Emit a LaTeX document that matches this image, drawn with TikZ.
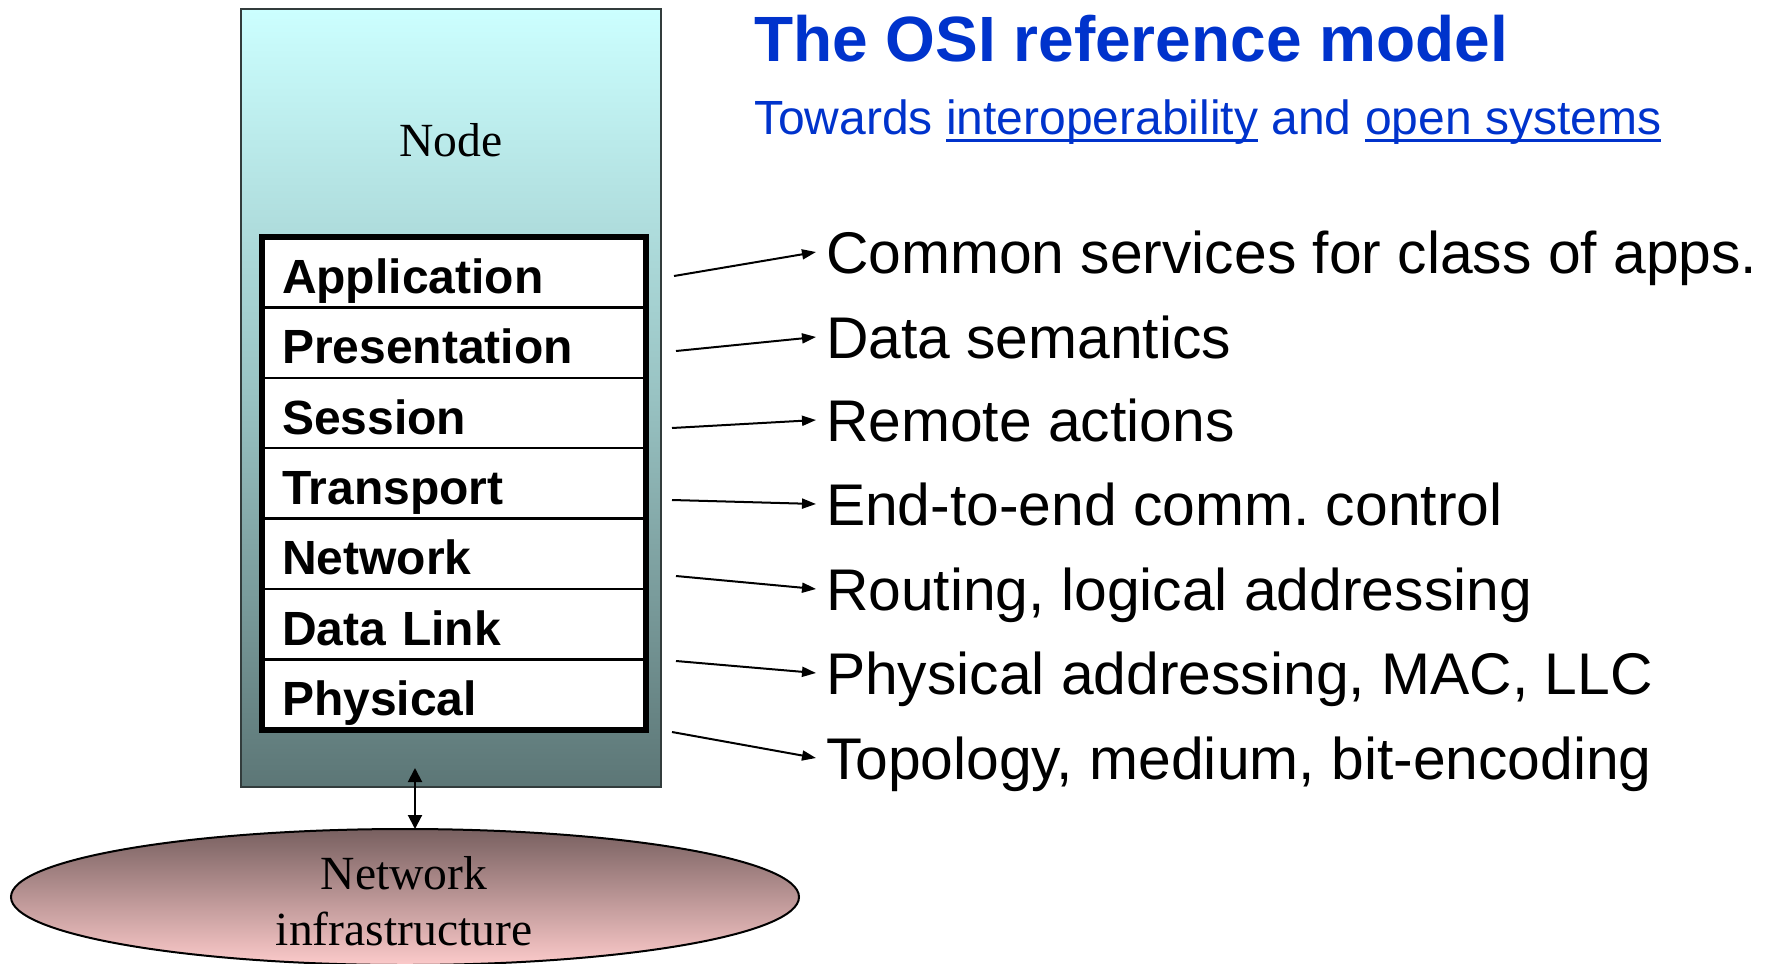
\documentclass[tikz,border=0pt]{standalone}
\usepackage{fontspec}
\setmainfont{Liberation Serif}
\setsansfont{Liberation Sans}
\usetikzlibrary{arrows.meta,shapes.geometric,positioning}
\frenchspacing

\definecolor{titleblue}{RGB}{0,51,204}
\definecolor{nodetop}{RGB}{204,255,255}
\definecolor{nodemid}{RGB}{152,194,194}
\definecolor{nodebot}{RGB}{92,118,118}
\definecolor{nettop}{RGB}{120,96,96}
\definecolor{netbot}{RGB}{252,202,202}
\definecolor{frame}{RGB}{50,60,60}

% underlined link-style words
\newsavebox{\ulbox}
\newcommand{\linkword}[1]{\sbox{\ulbox}{#1}%
  \rlap{\rule[-3.9pt]{\wd\ulbox}{1.3pt}}\usebox{\ulbox}}

% node box: cyan at the top, dark slate at the bottom
\pgfdeclareverticalshading{nodeshade}{100bp}{%
  color(0bp)=(nodebot); color(25bp)=(nodebot);
  color(50bp)=(nodemid);
  color(75bp)=(nodetop); color(100bp)=(nodetop)}

\begin{document}
\begin{tikzpicture}[x=0.5pt,y=-0.5pt,
  every node/.style={inner sep=0pt, outer sep=0pt},
  layer/.style={draw, line width=1.2pt, fill=white,
    minimum width=192pt, minimum height=35.2pt,
    text width=172pt, align=left, inner xsep=10pt,
    text height=21pt, text depth=0pt,
    font=\sffamily\bfseries\fontsize{24}{28}\selectfont},
  desc/.style={anchor=base west, inner xsep=5pt,
    text height=21pt, text depth=0pt,
    font=\sffamily\fontsize{29.4}{34}\selectfont},
  pointer/.style={-{Triangle[length=7pt,width=5pt]}, line width=1pt},
  serifbig/.style={font=\rmfamily\fontsize{23.8}{28}\selectfont},
]
\useasboundingbox (0,0) rectangle (1775,963);

% title and subtitle
\node[anchor=base west, text=titleblue,
  font=\sffamily\bfseries\fontsize{32}{38}\selectfont] (title) at (754,62)
  {The OSI reference model};
\node[anchor=base west, text=titleblue,
  font=\sffamily\fontsize{24}{28}\selectfont] (subtitle) at (754,134)
  {Towards \linkword{interoperability} and \linkword{open systems}};

% the node that holds the protocol stack
\node[draw=frame, line width=1pt, shading=nodeshade,
  minimum width=210pt, minimum height=389pt] (node) at (451,398) {};
\node[serifbig, anchor=base] (nodelabel) at (451,156) {Node};

% the seven layers
\node[layer] (l1) at (454,272.2) {Application};
\node[layer, below=0pt of l1] (l2) {Presentation};
\node[layer, below=0pt of l2] (l3) {Session};
\node[layer, below=0pt of l3] (l4) {Transport};
\node[layer, below=0pt of l4] (l5) {Network};
\node[layer, below=0pt of l5] (l6) {Data Link};
\node[layer, below=0pt of l6] (l7) {Physical};
\draw[line width=2.85pt] (l1.north west) rectangle (l7.south east);

% network infrastructure
\node[ellipse, draw, line width=1pt, top color=nettop, bottom color=netbot,
  minimum width=394pt, minimum height=68pt] (net) at (405,897) {};
\node[serifbig, anchor=base] (net1) at (404,889) {Network};
\node[serifbig, anchor=base] (net2) at (404,945) {infrastructure};

\coordinate (stackbase) at (415,768);
\draw[{Triangle[length=7pt,width=7pt]}-{Triangle[length=7pt,width=7pt]},
  line width=1pt] (stackbase) -- (stackbase |- net.north);

% what each layer provides
\node[desc] (d1) at (816,273) {Common services for class of apps.};
\node[desc] (d2) at (816,358) {Data semantics};
\node[desc] (d3) at (816,441) {Remote actions};
\node[desc] (d4) at (816,525) {End-to-end comm. control};
\node[desc] (d5) at (816,610) {Routing, logical addressing};
\node[desc] (d6) at (816,694) {Physical addressing, MAC, LLC};
\node[desc] (d7) at (816,779) {Topology, medium, bit-encoding};

\coordinate (s1) at (674,276);
\coordinate (s2) at (676,351);
\coordinate (s3) at (672,428);
\coordinate (s4) at (672,500);
\coordinate (s5) at (676,576);
\coordinate (s6) at (676,661);
\coordinate (s7) at (672,732);

\foreach \i in {1,...,7} \draw[pointer] (s\i) -- (d\i.west);
\end{tikzpicture}
\end{document}
